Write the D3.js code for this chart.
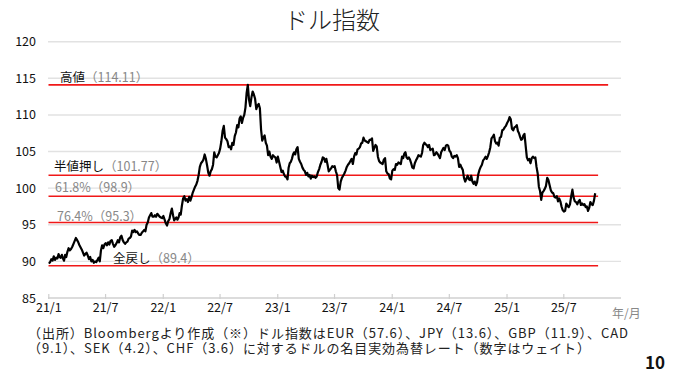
<!DOCTYPE html>
<html><head><meta charset="utf-8">
<script src="https://cdn.jsdelivr.net/npm/d3@7"></script>
<style>
body{margin:0;background:#fff}
svg{display:block}
text{font-family:"Noto Sans CJK JP","Noto Sans",sans-serif}
</style>
</head><body>
<svg id="c" width="675" height="383"></svg>
<script>
// ---- data ----
const months = ["2021-01","2021-02","2021-03","2021-04","2021-05","2021-06","2021-07","2021-08","2021-09","2021-10","2021-11","2021-12",
"2022-01","2022-02","2022-03","2022-04","2022-05","2022-06","2022-07","2022-08","2022-09","2022-10","2022-11","2022-12",
"2023-01","2023-02","2023-03","2023-04","2023-05","2023-06","2023-07","2023-08","2023-09","2023-10","2023-11","2023-12",
"2024-01","2024-02","2024-03","2024-04","2024-05","2024-06","2024-07","2024-08","2024-09","2024-10","2024-11","2024-12",
"2025-01","2025-02","2025-03","2025-04","2025-05","2025-06","2025-07","2025-08","2025-09","2025-10"];
// about two readings per week within each month
const readings = [
[89.7,89.9,90.3,90.1,90.7,90.2,90.5,90.4],
[91.0,90.6,90.5,90.9,90.4,90.1,90.9,90.6],
[91.3,91.8,91.5,91.7,92.0,92.4,92.8,93.2],
[92.9,92.6,92.2,91.9,91.6,91.2,90.8,91.0],
[91.2,90.8,90.3,90.6,90.0,90.2,89.8,90.0],
[89.9,90.2,90.5,90.0,91.5,92.2,91.8,92.3],
[92.5,92.2,92.6,92.3,92.8,92.9,92.4,92.0],
[92.2,92.5,92.9,92.6,93.3,93.5,92.9,92.6],
[92.4,92.6,92.7,93.1,93.2,93.4,94.2,94.0],
[94.3,94.0,94.1,93.8,93.6,93.6,93.9,94.1],
[94.3,94.1,95.0,95.3,96.0,96.3,96.6,96.1],
[96.1,96.3,96.1,96.5,96.3,96.1,96.0,95.9],
[96.2,95.7,95.2,94.9,95.5,95.8,96.6,97.2],
[96.3,95.6,95.8,96.0,95.7,96.0,96.6,96.4],
[97.6,98.6,98.9,98.3,98.5,98.1,98.8,98.3],
[98.8,99.4,99.8,100.2,100.5,101.0,101.8,102.9],
[103.4,103.6,103.9,104.6,104.0,103.1,102.1,101.7],
[102.3,102.6,103.2,104.9,104.3,104.2,104.5,104.8],
[105.4,106.4,107.8,108.5,106.9,106.7,106.4,105.6],
[105.7,105.3,106.2,105.9,107.1,107.6,108.6,108.3],
[109.5,109.8,108.9,109.6,110.0,111.0,113.0,114.1],
[112.1,111.2,112.4,113.2,112.8,112.2,110.8,111.3],
[111.5,110.9,108.0,106.5,106.9,107.2,106.2,105.8],
[104.5,105.0,104.3,104.0,104.5,104.3,104.2,103.5],
[104.3,103.6,102.9,102.2,102.4,101.9,101.6,101.5],
[101.2,102.8,103.4,103.6,104.0,104.6,104.9,104.6],
[105.3,105.6,104.0,103.6,103.3,102.8,102.5,102.3],
[101.8,102.1,101.6,101.8,101.3,101.7,101.5,101.6],
[101.4,101.6,102.2,102.6,103.2,103.6,104.2,104.1],
[103.6,104.0,103.2,102.3,102.5,102.7,103.0,102.9],
[103.0,102.3,101.8,100.0,99.8,100.9,101.4,101.7],
[102.0,102.4,102.9,103.2,103.4,103.7,104.0,103.3],
[104.3,104.8,104.6,105.3,105.4,105.6,106.1,106.2],
[106.9,106.5,106.4,106.3,106.2,106.6,106.6,106.8],
[105.1,105.5,105.9,105.7,104.3,103.7,103.5,103.4],
[103.3,103.9,104.1,102.3,102.0,101.9,101.3,101.2],
[102.4,102.6,102.5,103.3,103.2,103.5,103.4,103.3],
[104.3,104.1,104.7,104.9,104.2,104.0,104.2,103.9],
[103.4,102.8,102.7,103.4,103.8,104.1,104.5,104.4],
[104.3,104.8,105.9,106.2,106.0,105.9,105.6,105.9],
[105.2,105.3,105.4,104.5,104.6,104.9,104.7,104.4],
[104.1,104.9,105.2,105.5,105.2,105.8,105.9,105.8],
[105.1,104.9,104.3,104.1,104.4,104.3,104.5,104.1],
[102.9,103.2,102.8,102.5,101.4,100.9,101.3,101.7],
[101.2,101.1,101.7,100.9,100.6,100.9,100.4,100.8],
[101.9,102.5,102.9,103.2,103.8,104.0,104.3,104.0],
[104.4,104.9,105.6,106.8,107.0,107.3,106.4,106.1],
[106.2,105.8,106.9,107.0,107.9,108.0,108.3,108.5],
[108.9,109.2,109.7,109.4,108.1,107.9,108.3,108.4],
[108.6,107.8,107.5,107.0,106.6,106.7,107.2,107.4],
[105.8,104.2,103.8,104.0,103.4,104.1,104.3,104.1],
[104.2,102.9,102.0,100.2,99.6,98.4,99.4,99.6],
[99.9,100.3,101.4,101.1,100.4,99.7,99.4,99.3],
[98.8,98.7,98.9,98.2,98.6,98.2,97.5,97.0],
[96.8,96.9,97.9,97.6,97.4,97.8,98.9,99.8],
[98.7,98.2,98.1,97.8,98.2,98.4,97.7,97.9],
[97.7,97.8,97.4,97.5,96.9,97.3,98.1,97.8],
[97.7,98.3,99.3]
];
const slotsPerMonth = 8;
const yTicks = [85,90,95,100,105,110,115,120];
const xTickDates = ["2021-01-01","2021-07-01","2022-01-01","2022-07-01","2023-01-01","2023-07-01","2024-01-01","2024-07-01","2025-01-01","2025-07-01"];
const xTickLabels = ["21/1","21/7","22/1","22/7","23/1","23/7","24/1","24/7","25/1","25/7"];
const levelValues = [114.11,101.77,98.9,95.3,89.4];
const levelNames = ["高値","半値押し","61.8%","76.4%","全戻し"];
const levelValueLabels = ["（114.11）","（101.77）","（98.9）","（95.3）","（89.4）"];
const titleText = "ドル指数";
const unitText = "年/月";
const footerLines = [
  "（出所）Bloombergより作成（※）ドル指数はEUR（57.6）、JPY（13.6）、GBP（11.9）、CAD",
  "（9.1）、SEK（4.2）、CHF（3.6）に対するドルの名目実効為替レート（数字はウェイト）"
];
const pageNo = "10";

// ---- build series ----
const series = [];
months.forEach((m,i)=>{
  const start = new Date(m+"-01");
  const end = d3.utcMonth.offset(start,1);
  readings[i].forEach((v,j)=>{
    series.push({date:new Date(+start + (j+0.5)/slotsPerMonth*(end-start)), value:v});
  });
});

// ---- drawing ----
const svg = d3.select("#c");
const x = d3.scaleUtc().domain([new Date("2021-01-01"), new Date("2026-01-01")]).range([48.3, 621]);
const y = d3.scaleLinear().domain([85,120]).range([298, 41.7]);

svg.append("text").attr("x",332).attr("y",29).attr("text-anchor","middle")
  .attr("font-size",24).attr("font-weight",300).attr("fill","#222").text(titleText);

// gridlines
svg.append("g").selectAll("line").data(yTicks).join("line")
  .attr("x1",48).attr("x2",621).attr("y1",d=>y(d)).attr("y2",d=>y(d))
  .attr("stroke",d=>d===85?"#d0d0d0":"#e2e2e2").attr("stroke-width",1.4);

// y axis labels
const yAxis = d3.axisLeft(y).tickValues(yTicks).tickSize(0).tickPadding(0).tickFormat(d3.format("d"));
const gy = svg.append("g").attr("transform","translate(36,0)").call(yAxis);
gy.select(".domain").remove();
gy.selectAll("text").attr("font-size",12.5).attr("fill","#111").attr("font-family","'Noto Sans CJK JP',sans-serif");

// x axis
const xAxis = d3.axisBottom(x).tickValues(xTickDates.map(d=>new Date(d)))
  .tickFormat((d,i)=>xTickLabels[i]).tickSize(0).tickPadding(0);
const gx = svg.append("g").attr("transform","translate(0,298)").call(xAxis);
gx.select(".domain").remove();
gx.selectAll("text").attr("font-size",12.5).attr("fill","#111").attr("dy","1.15em").attr("font-family","'Noto Sans CJK JP',sans-serif");
gx.selectAll(".tick").append("line").attr("y1",-4).attr("y2",1).attr("stroke","#cfcfcf").attr("stroke-width",1.2);

svg.append("text").attr("x",612).attr("y",318).attr("font-size",12).attr("fill","#888").text(unitText);

// level lines
const levelEnds = ["2025-11-21","2025-10-20","2025-10-20","2025-10-20","2025-10-20"];
svg.append("g").selectAll("line").data(levelValues).join("line")
  .attr("x1",48.5).attr("x2",(d,i)=>x(new Date(levelEnds[i])))
  .attr("y1",d=>y(d)).attr("y2",d=>y(d))
  .attr("stroke","#f01818").attr("stroke-width",1.6);

// series line
const line = d3.line().x(d=>x(d.date)).y(d=>y(d.value));
svg.append("path").datum(series).attr("d",line).attr("fill","none")
  .attr("stroke","#000").attr("stroke-width",2.2).attr("stroke-linejoin","round");

// level labels
const labelX = [60,54,55,57,113];
const labelDy = [-3,-4,-4,-1.5,-2.5];
const nameColor = ["#111","#111","#888","#888","#111"];
levelValues.forEach((v,i)=>{
  const t = svg.append("text").attr("x",labelX[i]).attr("y",y(v)+labelDy[i]).attr("font-size",12.5);
  t.append("tspan").attr("fill",nameColor[i]).text(levelNames[i]);
  t.append("tspan").attr("fill","#888").text(levelValueLabels[i]);
});

// footer (one text block, two lines)
const footerWidths = [600,562];
const ft = svg.append("text").attr("x",28).attr("y",337.5).attr("font-size",13).attr("fill","#222");
footerLines.forEach((s,i)=>{
  ft.append("tspan").attr("x",28).attr("dy",i===0?0:15.5)
    .attr("textLength",footerWidths[i]).attr("lengthAdjust","spacing").text(s);
});
svg.append("text").attr("x",665).attr("y",368.5).attr("text-anchor","end").attr("font-size",17)
  .attr("font-weight","bold").attr("fill","#111").text(pageNo);
</script>
</body></html>
